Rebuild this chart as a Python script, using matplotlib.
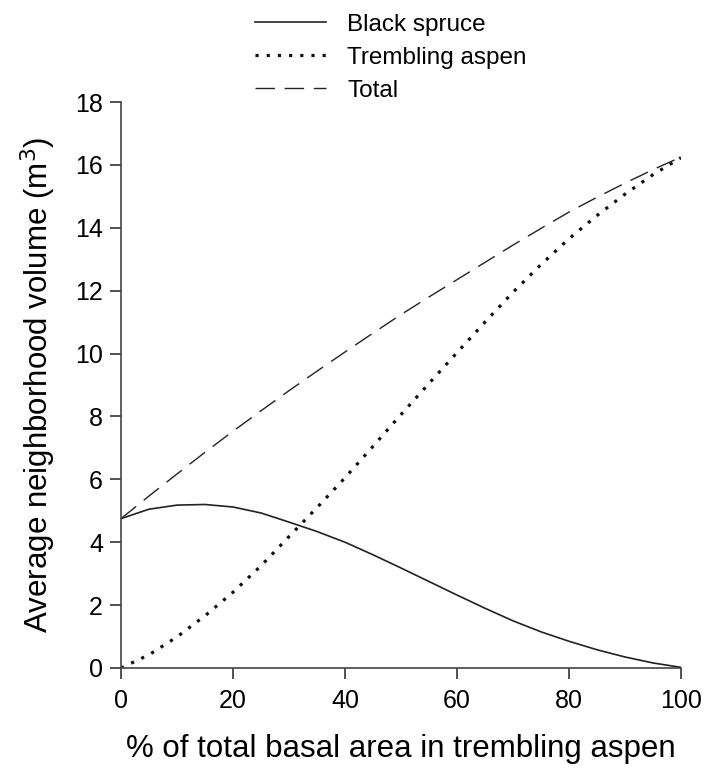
import numpy as np
import matplotlib
matplotlib.use("Agg")
from matplotlib import pyplot as plt

plt.rcParams['font.family'] = ['Liberation Sans', 'DejaVu Sans']

# % of total basal area in trembling aspen
pct_aspen = [0, 5, 10, 15, 20, 25, 30, 35, 40, 45, 50, 55, 60, 65, 70, 75, 80, 85, 90, 95, 100]

# average neighborhood volume (m3) by species
black_spruce = [4.75, 5.05, 5.18, 5.2, 5.12, 4.93, 4.64, 4.34, 4.0, 3.6, 3.18, 2.75, 2.32, 1.9, 1.5, 1.15, 0.85, 0.58, 0.35, 0.16, 0.02]
trembling_aspen = [0.0, 0.42, 0.99, 1.66, 2.41, 3.25, 4.18, 5.1, 6.05, 7.05, 8.06, 9.05, 10.03, 11.0, 11.95, 12.83, 13.65, 14.39, 15.07, 15.69, 16.23]
total = [4.75, 5.47, 6.17, 6.86, 7.53, 8.18, 8.82, 9.44, 10.05, 10.65, 11.24, 11.8, 12.35, 12.9, 13.45, 13.98, 14.5, 14.97, 15.42, 15.85, 16.25]

fig = plt.figure(figsize=(7.04, 7.77), dpi=100)
ax = fig.add_axes([0.1719, 0.1403, 0.7954, 0.7284])

ax.plot(pct_aspen, black_spruce, color='#222222', lw=1.2, label='Black spruce')
ax.plot(pct_aspen, trembling_aspen, color='#111111', lw=2.3,
        linestyle=(0, (1, 2.5)), dash_capstyle='butt', label='Trembling aspen')
ax.plot(pct_aspen, total, color='#222222', lw=1.0,
        linestyle=(0, (14, 7)), label='Total')

ax.set_xlim(0, 100)
ax.set_ylim(0, 18)
ax.set_xticks(np.arange(0, 101, 20))
ax.set_yticks(np.arange(0, 19, 2))
ax.tick_params(direction='out', length=8, width=1.2, color='#333333',
               labelsize=18)
ax.tick_params(axis='x', pad=7)
ax.tick_params(axis='y', pad=5)

for side in ['top', 'right']:
    ax.spines[side].set_visible(False)
for side in ['left', 'bottom']:
    ax.spines[side].set_color('#444444')
    ax.spines[side].set_linewidth(1.2)

ax.set_xlabel('% of total basal area in trembling aspen', fontsize=22.5, labelpad=15)
ax.set_ylabel('Average neighborhood volume (m$^3$)', fontsize=22.5, labelpad=12)

ax.legend(loc='upper left', bbox_to_anchor=(0.3485, 0.995), bbox_transform=fig.transFigure,
          frameon=False, fontsize=17.5, handlelength=2.9, handletextpad=0.9,
          labelspacing=0.45, borderaxespad=0)

fig.savefig('out.png', dpi=100)
